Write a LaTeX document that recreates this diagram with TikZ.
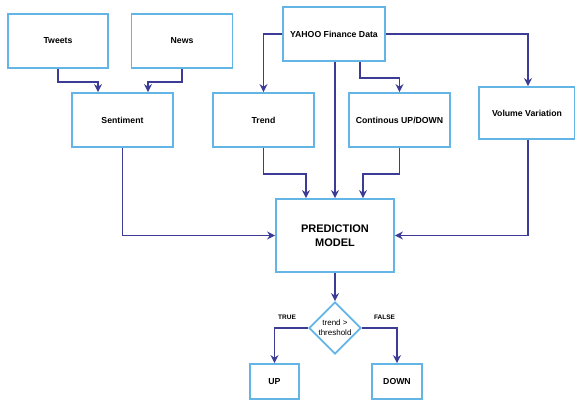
\documentclass[tikz,border=0pt]{standalone}
\usepackage{fontspec}
\setmainfont{Liberation Sans}
\usetikzlibrary{arrows.meta,shapes.geometric,calc}
\definecolor{boxc}{HTML}{62B5E5}
\definecolor{arrc}{HTML}{3C3C96}
\tikzset{
  box/.style={draw=boxc,line width=1.8pt,fill=white,inner sep=1pt,align=center,font=\fontsize{8.7}{10.5}\selectfont\bfseries},
  arr/.style={draw=arrc,line width=1.8pt,-{Stealth[length=8pt,width=8pt]}},
  lbl/.style={font=\fontsize{6.5}{7}\selectfont\bfseries,inner sep=0pt}
}
\begin{document}
\begin{tikzpicture}[x=1pt,y=-1pt]
\useasboundingbox (0,0) rectangle (575,401);
\node[box,minimum width=100,minimum height=54] (tw) at (58,41) {Tweets};
\node[box,minimum width=101,minimum height=54] (news) at (182,41) {News};
\node[box,minimum width=101,minimum height=54] (sent) at (122.5,120) {Sentiment};
\node[box,minimum width=101,minimum height=54] (trend) at (263.5,120) {Trend};
\node[box,minimum width=102,minimum height=54] (yahoo) at (334,34) {YAHOO Finance Data};
\node[box,minimum width=101,minimum height=54] (cont) at (399.5,120) {Continous UP/DOWN};
\node[box,minimum width=96,minimum height=52] (vol) at (527,113) {Volume Variation};
\node[box,minimum width=118,minimum height=73,font=\fontsize{11}{14}\selectfont\bfseries] (pred) at (335,235.5) {PREDICTION\\MODEL};
\node[diamond,draw=boxc,line width=1.8pt,fill=white,minimum width=52,minimum height=52,inner sep=0pt] (dec) at (335,328) {};
\node[align=center,font=\fontsize{8}{10}\selectfont,inner sep=0pt] (dectext) at (335,328) {trend >\\threshold};
\node[box,minimum width=49,minimum height=35] (up) at (274.5,381.5) {UP};
\node[box,minimum width=50,minimum height=35] (down) at (397,381.5) {DOWN};
\node[lbl] (t) at (287,317) {TRUE};
\node[lbl] (f) at (384.5,317) {FALSE};
% arrows
\draw[arr] (tw.south) -- ++(0,13) -| ([xshift=-24.5pt]sent.north);
\draw[arr] (news.south) -- ++(0,13) -| ([xshift=25.5pt]sent.north);
\draw[arr] (yahoo.west) -| (trend.north);
\draw[arr] (yahoo.east) -| ([xshift=1pt]vol.north);
\draw[arr] (yahoo.south -| pred.north) -- (pred.north);
\draw[arr] ([xshift=26pt]yahoo.south) -- ++(0,16) -| (cont.north);
\draw[arr] (trend.south) -- ++(0,26) -| ([xshift=-29pt]pred.north);
\draw[arr] (cont.south) -- ++(0,26) -| ([xshift=28pt]pred.north);
\draw[arr] (sent.south) |- (pred.west);
\draw[arr] ([xshift=1pt]vol.south) |- (pred.east);
\draw[arr] (pred.south) -- (dec.north);
\draw[arr] (dec.west) -| (up.north);
\draw[arr] (dec.east) -| (down.north);
\end{tikzpicture}
\end{document}
